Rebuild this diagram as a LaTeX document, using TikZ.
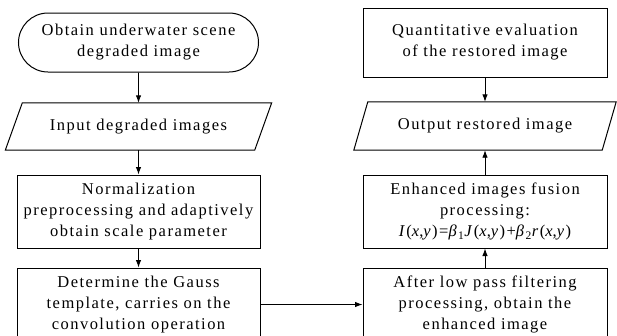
\documentclass[tikz,border=0pt]{standalone}
\usepackage{fontspec}
\setmainfont{Liberation Serif}
\usetikzlibrary{arrows.meta, shapes.misc}

% parallelogram drawn round a plain node
\newcommand\slantbox[2]{\draw[line width=1pt] ([xshift=#2]#1.north west) -- ([xshift=#2]#1.north east) -- ([xshift=-#2]#1.south east) -- ([xshift=-#2]#1.south west) -- cycle;}

\begin{document}
\begin{tikzpicture}[x=1pt, y=-1pt]
\tikzstyle{every node} = [font={\fontsize{16.5}{21}\selectfont\addfontfeature{LetterSpace=9}}, align=center]
\tikzstyle{stadium} = [rounded rectangle, draw, line width=1pt, minimum width=240pt, minimum height=59pt, inner sep=0pt]
\tikzstyle{io} = [rectangle, minimum height=47pt, inner sep=0pt]
\tikzstyle{proc} = [rectangle, draw, line width=1pt, minimum width=244pt, minimum height=73pt, inner sep=0pt]
\tikzstyle{flow} = [line width=0.9pt, -{Latex[length=7.5pt,width=5.5pt]}]

\useasboundingbox (0,0) rectangle (617,335);
\clip (0,0) rectangle (617,335);

% left column
\node[stadium] (scene) at (138.5,42.5) {Obtain underwater scene\\degraded image};
\node[io, minimum width=249pt] (input) at (138.5,126.5) {Input degraded images};
\slantbox{input}{8.5pt}
\node[proc, minimum width=243pt] (norm) at (138.5,211.5) {Normalization\\preprocessing and adaptively\\obtain scale parameter};
\node[proc, minimum width=243pt] (gauss) at (138.5,304.5) {Determine the Gauss\\template, carries on the\\convolution operation};

% right column
\node[proc, minimum height=69pt] (evaluate) at (485,42.5) {Quantitative evaluation\\of the restored image};
\node[io, minimum width=248pt, minimum height=48pt] (output) at (485,126) {Output restored image};
\slantbox{output}{7pt}
\node[proc] (fusion) at (485,211.5) {Enhanced images fusion\\processing:\\\textit{I}(\textit{x},\textit{y})=\textit{β}\textsubscript{1}\textit{J}(\textit{x},\textit{y})+\textit{β}\textsubscript{2}\textit{r}(\textit{x},\textit{y})};
\node[proc] (lowpass) at (485,304.5) {After low pass filtering\\processing, obtain the\\enhanced image};

\draw[flow] (scene) -- (input);
\draw[flow] (input) -- (norm);
\draw[flow] (norm) -- (gauss);
\draw[flow] (gauss) -- (lowpass);
\draw[flow] (lowpass) -- (fusion);
\draw[flow] (fusion) -- (output);
\draw[flow] (evaluate) -- (output);
\end{tikzpicture}
\end{document}
